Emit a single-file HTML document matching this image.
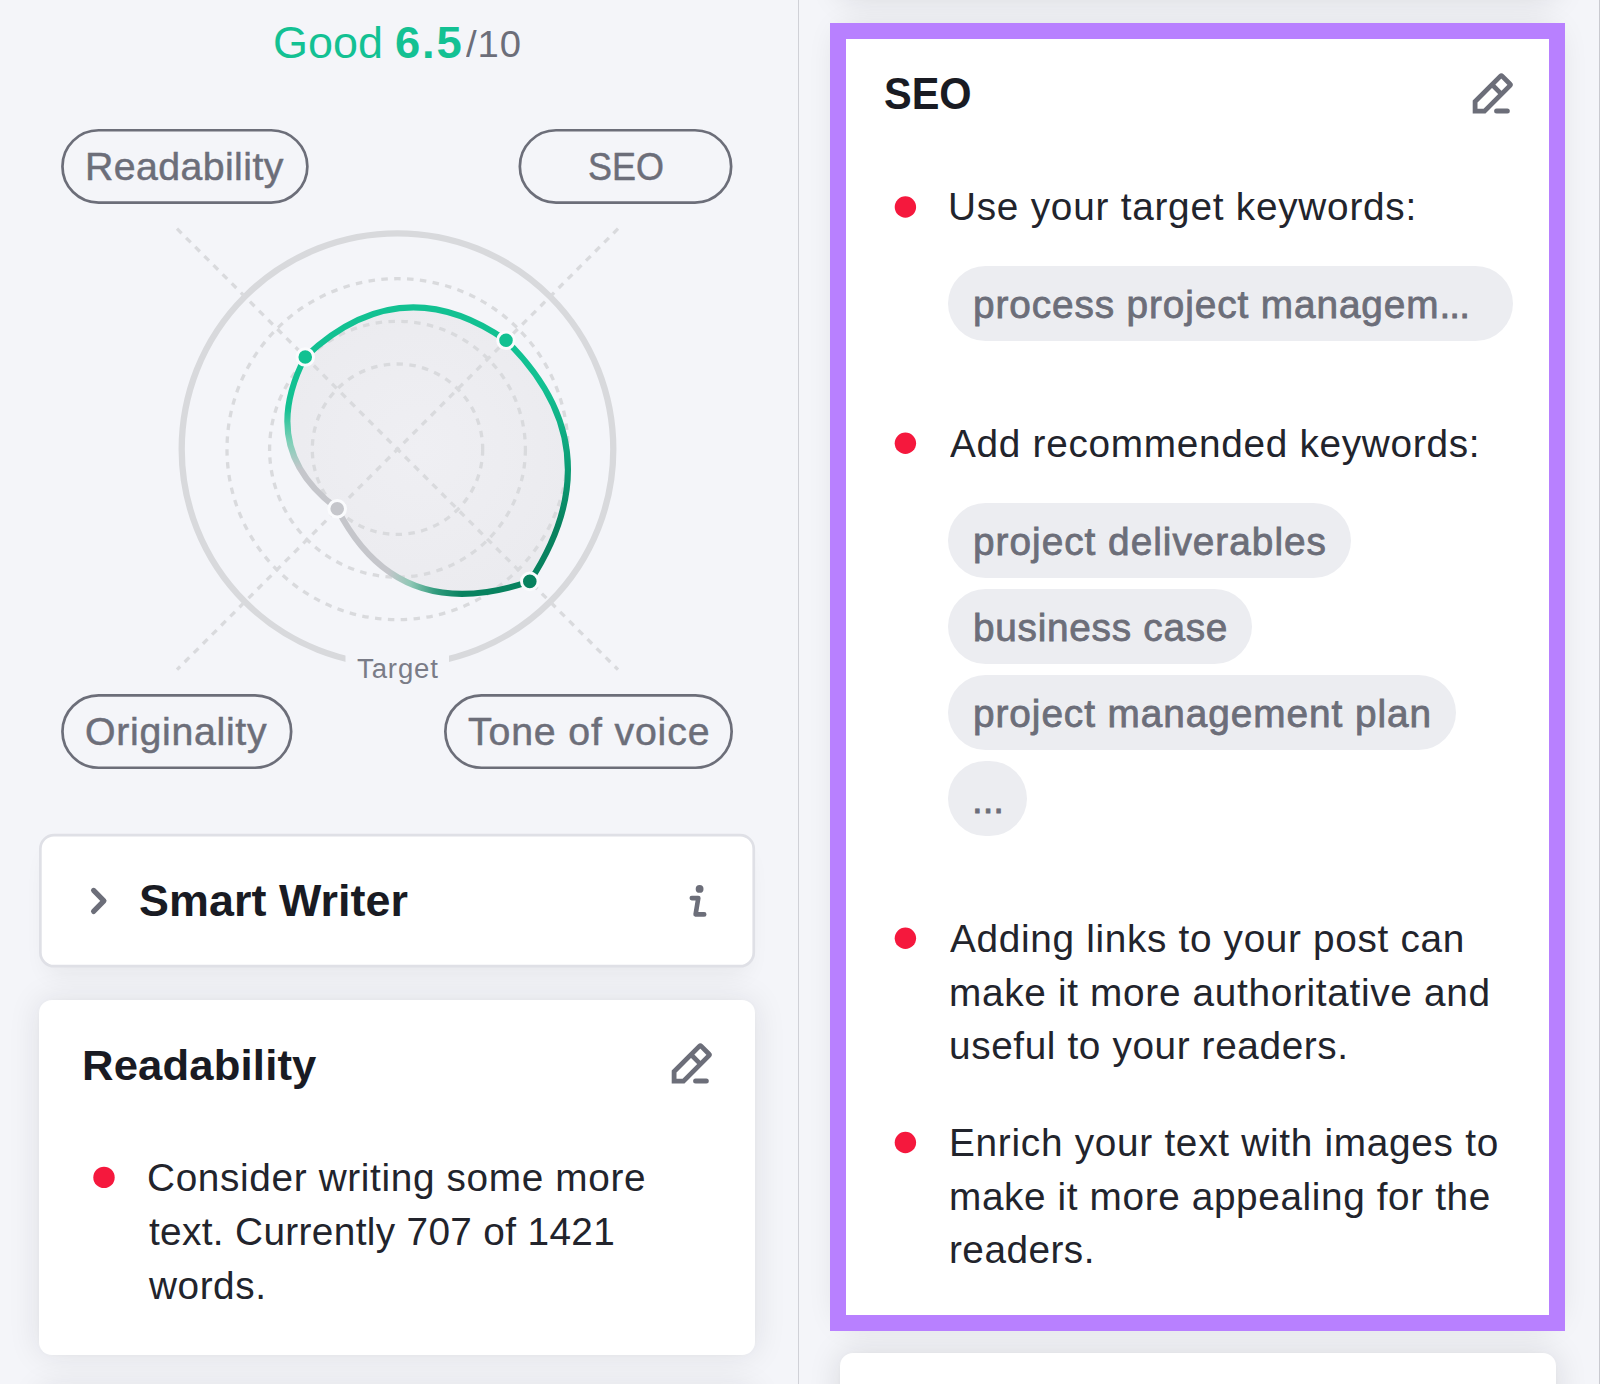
<!DOCTYPE html>
<html lang="en"><head><meta charset="utf-8"><title>SEO Writing Assistant</title>
<style>
html,body{margin:0;padding:0}
body{width:1600px;height:1384px;position:relative;overflow:hidden;background:#f4f5f9;font-family:'Liberation Sans', sans-serif}
.abs{position:absolute}
.t{position:absolute;white-space:nowrap;transform-origin:0 0}
.chip{position:absolute;left:948px;height:75px;border-radius:38px;background:#ecedf1}
.card{position:absolute;background:#fff;border-radius:13px;box-shadow:0 0 32px rgba(25,27,35,.10),0 0 5px rgba(25,27,35,.02)}
.card.r{box-shadow:0 0 32px rgba(25,27,35,.125),0 0 5px rgba(25,27,35,.02)}
</style></head><body>
<div class="abs" style="left:798px;top:0;width:1px;height:1384px;background:#d0d1d7"></div>
<div class="abs" style="left:1599px;top:0;width:1px;height:1384px;background:#c9cad0"></div>
<svg class="abs" style="left:0;top:0" width="800" height="800" viewBox="0 0 800 800">
<defs>
<linearGradient id="gR" gradientUnits="userSpaceOnUse" x1="0" y1="385" x2="0" y2="525"><stop offset="0" stop-color="#12c192"/><stop offset="0.4" stop-color="#0fa97f"/><stop offset="1" stop-color="#08825f"/></linearGradient>
<linearGradient id="gB" gradientUnits="userSpaceOnUse" x1="462" y1="0" x2="388" y2="0"><stop offset="0" stop-color="#08825f"/><stop offset="0.35" stop-color="#2f9a7c"/><stop offset="0.7" stop-color="#8fc7b5"/><stop offset="1" stop-color="#c5c6cb"/></linearGradient>
<linearGradient id="gL" gradientUnits="userSpaceOnUse" x1="0" y1="470" x2="0" y2="408"><stop offset="0" stop-color="#c5c6cb"/><stop offset="0.45" stop-color="#7fd0b8"/><stop offset="1" stop-color="#12c192"/></linearGradient>
<radialGradient id="gF" gradientUnits="userSpaceOnUse" cx="420" cy="450" r="160"><stop offset="0" stop-color="#efeff3"/><stop offset="1" stop-color="#ebebef"/></radialGradient>
</defs>
<circle cx="397.5" cy="449.2" r="215.8" fill="none" stroke="#d8d9dc" stroke-width="6.3"/>
<path d="M305.25 356.95 Q400.5 267.0 506.0 340.3 Q616.5 449.0 529.8 581.4 Q397.5 626.6 337.2 508.7 Q257.5 449.0 305.25 356.95 Z" fill="url(#gF)"/>
<circle cx="397.5" cy="449.2" r="85.2" stroke="#d9dadd" stroke-width="3.3" fill="none" stroke-dasharray="6.5 6.4"/>
<circle cx="397.5" cy="449.2" r="127.9" stroke="#d9dadd" stroke-width="3.3" fill="none" stroke-dasharray="6.5 6.4"/>
<circle cx="397.5" cy="449.2" r="170.5" stroke="#d9dadd" stroke-width="3.3" fill="none" stroke-dasharray="6.5 6.4"/>
<path d="M177.0 228.7 L618.0 669.7 M618.0 228.7 L177.0 669.7" stroke="#d9dadd" stroke-width="3.3" fill="none" stroke-dasharray="6.5 6.4"/>
<rect x="345.5" y="640" width="103.5" height="50" fill="#f4f5f9"/>
<path d="M305.25 356.95 Q400.5 267.0 506.0 340.3" stroke="#12c192" stroke-width="6" fill="none" stroke-linecap="round"/>
<path d="M506.0 340.3 Q616.5 449.0 529.8 581.4" stroke="url(#gR)" stroke-width="6" fill="none" stroke-linecap="round"/>
<path d="M529.8 581.4 Q397.5 626.6 337.2 508.7" stroke="url(#gB)" stroke-width="6" fill="none" stroke-linecap="round"/>
<path d="M337.2 508.7 Q257.5 449.0 305.25 356.95" stroke="url(#gL)" stroke-width="6" fill="none" stroke-linecap="round"/>
<circle cx="305.25" cy="356.95" r="8.3" fill="#12c192" stroke="#fafbfd" stroke-width="3"/>
<circle cx="506.0" cy="340.3" r="8.3" fill="#12c192" stroke="#fafbfd" stroke-width="3"/>
<circle cx="529.8" cy="581.4" r="8.3" fill="#08825f" stroke="#fafbfd" stroke-width="3"/>
<circle cx="337.2" cy="508.7" r="8.3" fill="#c5c6cb" stroke="#fafbfd" stroke-width="3"/>
</svg>
<svg class="abs" style="left:0;top:0" width="800" height="800" viewBox="0 0 800 800"><g fill="none" stroke="#6c6e79" stroke-width="2.7">
<rect x="62.45" y="130.25" width="244.9" height="72.3" rx="36.15" ry="36.15"/>
<rect x="519.85" y="130.25" width="211.3" height="72.3" rx="36.15" ry="36.15"/>
<rect x="62.45" y="695.45" width="228.70000000000002" height="72.3" rx="36.15" ry="36.15"/>
<rect x="445.35" y="695.45" width="286.3" height="72.3" rx="36.15" ry="36.15"/>
</g></svg>
<div class="abs" style="left:40px;top:835px;width:714px;height:132px;border-radius:14px;background:#fff;box-shadow:0 14px 24px -8px rgba(25,27,35,.07)"></div>
<svg class="abs" style="left:0;top:800px" width="800" height="200" viewBox="0 800 800 200"><rect x="40.35" y="835.1" width="713.4" height="131.1" rx="13.7" ry="13.7" fill="#fff" stroke="#dfe0e6" stroke-width="2.7"/></svg>
<svg class="abs" style="left:80px;top:880px" width="40" height="42" viewBox="0 0 40 42"><path d="M13.6 10.4 L23.9 20.9 L13.6 31.4" fill="none" stroke="#6c6e79" stroke-width="5.2" stroke-linecap="round" stroke-linejoin="round"/></svg>
<svg class="abs" style="left:680px;top:880px" width="40" height="42" viewBox="0 0 40 42"><circle cx="19.6" cy="8.9" r="3.9" fill="#6c6e79"/><path d="M11.8 18.1 L18.3 18.1 L15.6 34.4 L24.2 34.4" fill="none" stroke="#6c6e79" stroke-width="4.6" stroke-linecap="round" stroke-linejoin="round"/></svg>
<div class="card" style="left:39px;top:1000px;width:716px;height:355px"></div>
<div class="card" style="left:39px;top:1388px;width:716px;height:100px"></div>
<svg class="abs" style="left:650px;top:1030px" width="80" height="70" viewBox="0 0 80 70"><g fill="none" stroke="#6c6e79" stroke-width="4.8">
<path d="M24.1 51.1 L24.1 41.55 L49.475 16.175 Q50.325 15.325 51.175 16.175 L58.95 23.95 Q59.8 24.8 58.95 25.65 L33.5 51.1 Z" stroke-linejoin="miter"/>
<path d="M41.05 24.6 L50.5 34.1"/>
<path d="M45.6 51.1 L56.3 51.1" stroke-linecap="round" stroke-width="5"/></g></svg>
<svg class="abs" style="left:80px;top:1150px" width="50" height="50" viewBox="80 1150 50 50"><circle cx="104" cy="1177.4" r="10.7" fill="#f5183d"/></svg>
<div class="card r" style="left:840px;top:-60px;width:716px;height:59px"></div>
<div class="card r" style="left:840px;top:30px;width:716px;height:1292px"></div>
<div class="card r" style="left:840px;top:1352.5px;width:716px;height:100px"></div>
<div class="abs" style="left:830px;top:22.5px;width:735px;height:1308.5px;box-sizing:border-box;border:16px solid #b880ff"></div>
<svg class="abs" style="left:1451.26px;top:59.5px" width="80" height="70" viewBox="0 0 80 70"><g fill="none" stroke="#6c6e79" stroke-width="4.8">
<path d="M24.1 51.1 L24.1 41.55 L49.475 16.175 Q50.325 15.325 51.175 16.175 L58.95 23.95 Q59.8 24.8 58.95 25.65 L33.5 51.1 Z" stroke-linejoin="miter"/>
<path d="M41.05 24.6 L50.5 34.1"/>
<path d="M45.6 51.1 L56.3 51.1" stroke-linecap="round" stroke-width="5"/></g></svg>
<div class="chip" style="top:266px;width:565px"></div>
<div class="chip" style="top:503px;width:403px"></div>
<div class="chip" style="top:589px;width:304px"></div>
<div class="chip" style="top:675px;width:508px"></div>
<div class="chip" style="top:761px;width:79px"></div>
<svg class="abs" style="left:880px;top:0" width="50" height="1384" viewBox="880 0 50 1384"><g fill="#f5183d">
<circle cx="905.4" cy="207.0" r="10.7"/>
<circle cx="905.4" cy="443.2" r="10.7"/>
<circle cx="905.4" cy="938.2" r="10.7"/>
<circle cx="905.4" cy="1142.5" r="10.7"/>
</g></svg>
<div class="t" style="left:273.00px;top:10.00px;font-size:44.5px;line-height:66.75px;font-weight:400;color:#13c193;letter-spacing:0.000px;transform:scaleX(1.0096);">Good</div>
<div class="t" style="left:394.83px;top:10.00px;font-size:44.5px;line-height:66.75px;font-weight:700;color:#13c193;letter-spacing:1.824px;transform:scaleX(1.0200);">6.5</div>
<div class="t" style="left:465.60px;top:16.30px;font-size:37.5px;line-height:56.25px;font-weight:400;color:#6c6e79;letter-spacing:0.882px;transform:scaleX(1.0200);">/10</div>
<div class="t" style="left:84.54px;top:137.80px;font-size:38.5px;line-height:57.75px;font-weight:400;color:#6c6e79;letter-spacing:0.397px;transform:scaleX(1.0200);-webkit-text-stroke:0.5px #6c6e79;">Readability</div>
<div class="t" style="left:588.00px;top:137.80px;font-size:38.5px;line-height:57.75px;font-weight:400;color:#6c6e79;letter-spacing:0.000px;transform:scaleX(0.9326);-webkit-text-stroke:0.5px #6c6e79;">SEO</div>
<div class="t" style="left:85.44px;top:702.50px;font-size:38.5px;line-height:57.75px;font-weight:400;color:#6c6e79;letter-spacing:0.685px;transform:scaleX(1.0200);-webkit-text-stroke:0.5px #6c6e79;">Originality</div>
<div class="t" style="left:468.45px;top:702.50px;font-size:38.5px;line-height:57.75px;font-weight:400;color:#6c6e79;letter-spacing:0.824px;transform:scaleX(1.0200);-webkit-text-stroke:0.5px #6c6e79;">Tone of voice</div>
<div class="t" style="left:356.88px;top:648.50px;font-size:27.0px;line-height:40.5px;font-weight:400;color:#7a7c87;letter-spacing:0.860px;transform:scaleX(1.0200);">Target</div>
<div class="t" style="left:139.13px;top:868.25px;font-size:44.0px;line-height:66.0px;font-weight:700;color:#191b23;letter-spacing:0.041px;transform:scaleX(1.0200);">Smart Writer</div>
<div class="t" style="left:81.59px;top:1032.50px;font-size:42.8px;line-height:64.19999999999999px;font-weight:700;color:#191b23;letter-spacing:0.146px;transform:scaleX(1.0200);">Readability</div>
<div class="t" style="left:147.00px;top:1149.75px;font-size:38.0px;line-height:57.0px;font-weight:400;color:#22242c;letter-spacing:0.627px;transform:scaleX(1.0200);">Consider writing some more</div>
<div class="t" style="left:148.71px;top:1203.75px;font-size:38.0px;line-height:57.0px;font-weight:400;color:#22242c;letter-spacing:0.339px;transform:scaleX(1.0200);">text. Currently 707 of 1421</div>
<div class="t" style="left:149.30px;top:1257.75px;font-size:38.0px;line-height:57.0px;font-weight:400;color:#22242c;letter-spacing:0.541px;transform:scaleX(1.0200);">words.</div>
<div class="t" style="left:884.00px;top:60.75px;font-size:44.5px;line-height:66.75px;font-weight:700;color:#191b23;letter-spacing:0.000px;transform:scaleX(0.9326);">SEO</div>
<div class="t" style="left:948.26px;top:179.00px;font-size:38.0px;line-height:57.0px;font-weight:400;color:#22242c;letter-spacing:0.737px;transform:scaleX(1.0200);">Use your target keywords:</div>
<div class="t" style="left:972.50px;top:276.50px;font-size:38.0px;line-height:57.0px;font-weight:400;color:#6c6e79;letter-spacing:0.872px;transform:scaleX(1.0200);-webkit-text-stroke:0.8px #6c6e79;">process project managem<span style="letter-spacing:-0.8px">...</span></div>
<div class="t" style="left:949.80px;top:416.00px;font-size:38.0px;line-height:57.0px;font-weight:400;color:#22242c;letter-spacing:0.685px;transform:scaleX(1.0200);">Add recommended keywords:</div>
<div class="t" style="left:972.50px;top:513.50px;font-size:38.0px;line-height:57.0px;font-weight:400;color:#6c6e79;letter-spacing:0.980px;transform:scaleX(1.0200);-webkit-text-stroke:0.8px #6c6e79;">project deliverables</div>
<div class="t" style="left:972.50px;top:599.50px;font-size:38.0px;line-height:57.0px;font-weight:400;color:#6c6e79;letter-spacing:0.718px;transform:scaleX(1.0200);-webkit-text-stroke:0.8px #6c6e79;">business case</div>
<div class="t" style="left:972.50px;top:685.50px;font-size:38.0px;line-height:57.0px;font-weight:400;color:#6c6e79;letter-spacing:0.919px;transform:scaleX(1.0200);-webkit-text-stroke:0.8px #6c6e79;">project management plan</div>
<div class="t" style="left:971.50px;top:771.50px;font-size:38.0px;line-height:57.0px;font-weight:400;color:#6c6e79;letter-spacing:0.000px;transform:scaleX(1.0107);-webkit-text-stroke:0.8px #6c6e79;">...</div>
<div class="t" style="left:949.80px;top:911.00px;font-size:38.0px;line-height:57.0px;font-weight:400;color:#22242c;letter-spacing:0.657px;transform:scaleX(1.0200);">Adding links to your post can</div>
<div class="t" style="left:948.88px;top:964.60px;font-size:38.0px;line-height:57.0px;font-weight:400;color:#22242c;letter-spacing:0.662px;transform:scaleX(1.0200);">make it more authoritative and</div>
<div class="t" style="left:948.97px;top:1018.20px;font-size:38.0px;line-height:57.0px;font-weight:400;color:#22242c;letter-spacing:0.598px;transform:scaleX(1.0200);">useful to your readers.</div>
<div class="t" style="left:948.50px;top:1115.25px;font-size:38.0px;line-height:57.0px;font-weight:400;color:#22242c;letter-spacing:0.701px;transform:scaleX(1.0200);">Enrich your text with images to</div>
<div class="t" style="left:948.88px;top:1168.75px;font-size:38.0px;line-height:57.0px;font-weight:400;color:#22242c;letter-spacing:0.599px;transform:scaleX(1.0200);">make it more appealing for the</div>
<div class="t" style="left:948.90px;top:1222.25px;font-size:38.0px;line-height:57.0px;font-weight:400;color:#22242c;letter-spacing:0.449px;transform:scaleX(1.0200);">readers.</div>
</body></html>
